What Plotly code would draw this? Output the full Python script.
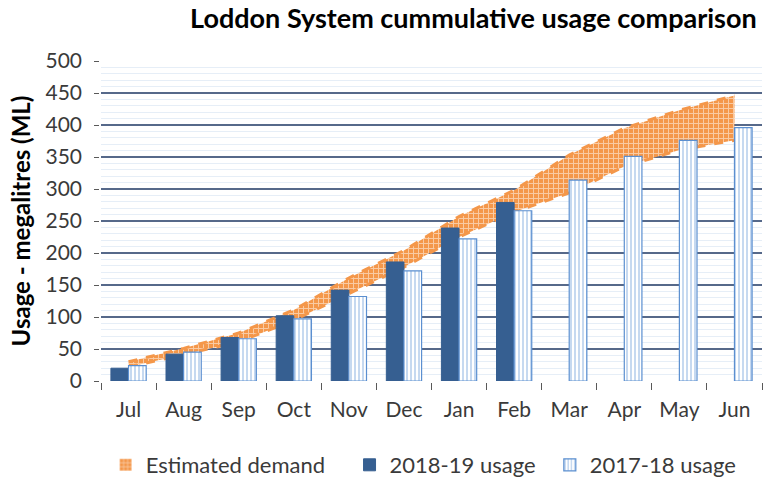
import plotly.graph_objects as go

months = ["Jul", "Aug", "Sep", "Oct", "Nov", "Dec", "Jan", "Feb", "Mar", "Apr", "May", "Jun"]
usage_2018_19 = [20, 42, 68, 102, 142, 186, 239, 279, None, None, None, None]
usage_2017_18 = [24, 45, 66, 97, 132, 172, 222, 266, 314, 351, 376, 396]
demand_low = [22, 41, 61, 95, 137, 178, 225, 264, 294, 335, 361, 376]
demand_high = [30, 51, 75, 111, 161, 204, 257, 298, 353, 395, 423, 446]

FONT = "Lato"
ORANGE = "#F4974A"
TXT = "#3A3A3A"

band_pattern = dict(shape="+", fgcolor="#FFFFFF", bgcolor=ORANGE, size=5, solidity=0.35)

fig = go.Figure()

fig.add_trace(go.Scatter(
    x=months, y=demand_low, mode="lines",
    line=dict(color=ORANGE, width=3, dash="dash"),
    showlegend=False, hoverinfo="skip", zorder=0,
))
fig.add_trace(go.Scatter(
    x=months, y=demand_high, mode="lines", name="Estimated demand",
    line=dict(color=ORANGE, width=3, dash="dash"),
    fill="tonexty", fillcolor="#F7B27A",
    fillpattern=band_pattern,
    showlegend=False, zorder=0,
))
# legend-only entry for the demand band (square swatch)
fig.add_trace(go.Bar(
    x=months, y=[None] * len(months), name="Estimated demand",
    marker=dict(color=ORANGE, line=dict(width=0), pattern=band_pattern),
    offsetgroup="a", legend="legend", zorder=1,
))
fig.add_trace(go.Bar(
    x=months, y=usage_2018_19, name="2018-19 usage",
    marker=dict(color="#365F91", line=dict(color="#365F91", width=1)),
    offsetgroup="a", legend="legend2", zorder=1,
))
fig.add_trace(go.Bar(
    x=months, y=usage_2017_18, name="2017-18 usage",
    marker=dict(color="white",
                line=dict(color="#5B8FD0", width=1.2),
                pattern=dict(shape="|", fgcolor="#8DB4E2", bgcolor="white", size=4, solidity=0.5)),
    offsetgroup="b", legend="legend3", zorder=1,
))

leg_common = dict(orientation="h", y=-0.2625, yanchor="middle", xanchor="left",
                  font=dict(family=FONT, size=22, color=TXT), bgcolor="rgba(0,0,0,0)")

fig.update_layout(
    width=767, height=482,
    margin=dict(l=101, r=5, t=61, b=101, autoexpand=False),
    paper_bgcolor="white", plot_bgcolor="white",
    barmode="group", bargap=0.36, bargroupgap=0,
    font=dict(family=FONT, size=21, color=TXT),
    title=dict(text="<b>Loddon System cummulative usage comparison</b>",
               xref="paper", x=0.992, xanchor="right", yref="container", y=0.962, yanchor="middle",
               font=dict(family=FONT, size=27, color="black")),
    legend=dict(x=0.007, **leg_common),
    legend2=dict(x=0.376, **leg_common),
    legend3=dict(x=0.679, **leg_common),
    xaxis=dict(showline=True, linecolor="#595959", linewidth=1.5, automargin=False,
               ticks="outside", tickson="boundaries", ticklen=7, tickcolor="#595959",
               ticklabelstandoff=9,
               showgrid=False, tickfont=dict(size=21, color=TXT)),
    yaxis=dict(range=[0, 500], dtick=50, showline=True, linecolor="#595959", linewidth=1.5,
               automargin=False,
               ticks="outside", ticklen=5, tickcolor="#595959",
               ticklabelstandoff=8,
               showgrid=True, gridcolor="#56698A", gridwidth=1.5,
               minor=dict(dtick=10, showgrid=True, gridcolor="#E6EEF7", gridwidth=1),
               tickfont=dict(size=21, color=TXT),
               title=dict(text="<b>Usage - megalitres (ML)</b>", font=dict(size=24, color="black"),
                          standoff=8)),
)

fig.write_html("out.html",
               config={"displayModeBar": False},
               post_script="document.body.style.margin='0';document.documentElement.style.overflow='hidden';")
